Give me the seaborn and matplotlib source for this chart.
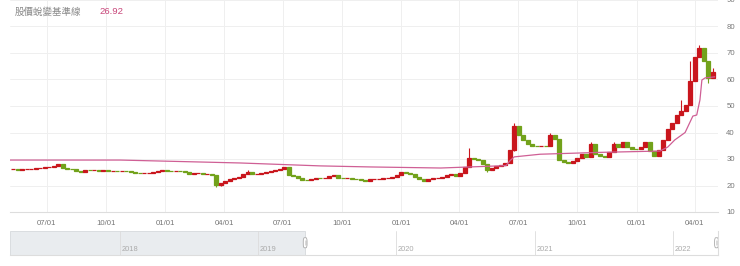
"""Stock price candles with baseline line and a date slider strip."""
import matplotlib
matplotlib.use("Agg")
import matplotlib.pyplot as plt
import matplotlib.dates as mdates
from matplotlib.patches import Rectangle, FancyBboxPatch
import pandas as pd
import seaborn as sns

TITLE = "股價蛻變基準線"
LAST_VALUE = "26.92"

# weekly closes, one per Friday starting 2019-05-10
WEEK_START = "2019-05-10"
closes = [
    26.2, 26.0, 26.1, 26.3, 26.4, 26.6, 26.7, 26.9, 27.0, 27.4,
    28.0, 26.6, 26.4, 26.1, 25.5, 25.2, 25.8, 25.7, 25.8, 25.6,
    25.7, 25.5, 25.5, 25.4, 25.5, 25.3, 25.0, 24.8, 24.7, 24.8,
    24.9, 25.0, 25.3, 25.8, 25.6, 25.5, 25.6, 25.4, 25.1, 24.4,
    24.6, 24.8, 24.5, 24.5, 23.8, 20.0, 21.0, 21.8, 22.4, 22.9,
    23.3, 24.2, 25.0, 24.3, 24.4, 24.6, 25.1, 25.4, 25.9, 26.3,
    26.9, 24.0, 23.6, 23.0, 22.2, 22.1, 22.3, 22.9, 22.7, 23.0,
    23.6, 23.8, 23.0, 22.7, 22.8, 22.6, 22.4, 22.1, 21.8, 22.4,
    22.5, 22.6, 22.8, 22.8, 23.3, 24.0, 25.0, 24.6, 24.2, 23.2,
    22.3, 21.8, 22.3, 22.9, 23.0, 23.3, 23.8, 24.3, 23.5, 24.8,
    27.0, 30.5, 30.0, 29.8, 28.0, 25.8, 26.6, 27.2, 27.7, 28.5,
    33.5, 42.5, 39.0, 37.2, 35.5, 35.0, 34.9, 35.0, 34.8, 39.2,
    37.5, 29.5, 28.7, 28.5, 29.2, 30.2, 31.8, 30.6, 35.5, 32.0,
    31.0, 30.8, 32.5, 35.5, 34.5, 36.5, 34.6, 33.8, 33.6, 34.5,
    36.5, 33.0, 31.2, 33.5, 37.0, 41.5, 43.5, 46.5, 48.0, 50.5,
    59.5, 68.5, 72.0, 67.0, 60.5, 62.8,
]
wick_highs = {
    "2020-05-08": 25.7, "2021-04-16": 34.0, "2021-06-25": 43.6,
    "2021-08-20": 40.0, "2021-10-22": 36.4, "2021-11-26": 36.4,
    "2022-03-11": 52.3, "2022-03-25": 67.0, "2022-04-08": 73.0,
    "2022-04-29": 64.5,
}
wick_lows = {
    "2020-03-20": 19.5, "2021-05-14": 25.0, "2021-06-25": 33.0,
    "2022-04-22": 58.5,
}

# baseline line
base_dates = [
    "2019-05-05", "2019-10-23", "2020-04-26", "2020-08-28", "2020-11-14",
    "2021-03-03", "2021-06-12", "2021-06-19", "2021-06-25", "2021-08-04",
    "2021-11-05", "2022-02-06", "2022-02-18", "2022-03-01", "2022-03-17",
    "2022-03-29", "2022-04-04", "2022-04-09", "2022-04-12", "2022-04-17",
    "2022-05-02",
]
base_values = [
    29.6, 29.6, 28.5, 27.4, 27.0, 26.6, 27.5, 29.5, 30.8, 31.8,
    32.5, 33.0, 34.5, 37.2, 40.0, 46.2, 46.6, 52.3, 59.8, 60.6,
    61.0,
]

tick_dates = [
    "2019-07-01", "2019-10-01", "2020-01-01", "2020-04-01", "2020-07-01",
    "2020-10-01", "2021-01-01", "2021-04-01", "2021-07-01", "2021-10-01",
    "2022-01-01", "2022-04-01",
]
tick_labels = ["07/01", "10/01", "01/01", "04/01", "07/01", "10/01",
               "01/01", "04/01", "07/01", "10/01", "01/01", "04/01"]
y_ticks = [10, 20, 30, 40, 50, 60, 70, 80, 90]

slider_years = ["2018", "2019", "2020", "2021", "2022"]

VIEW_START, VIEW_END = "2019-05-05", "2022-05-07"
SLIDER_START, SLIDER_END = "2017-03-16", "2022-04-30"

UP = "#c9161d"
DOWN = "#72a21b"
PINK = "#cf5f95"
TXT = "#777777"

sns.set_style("white")
plt.rcParams["font.family"] = ["Liberation Sans", "Noto Sans CJK TC", "DejaVu Sans"]

fig = plt.figure(figsize=(7.4, 2.66), dpi=100)
W, H = 740, 266
ax = fig.add_axes([10 / W, 1 - 212 / H, 708 / W, 212 / H])

df = pd.DataFrame({
    "date": pd.date_range(WEEK_START, periods=len(closes), freq="7D"),
    "close": closes,
})
df["open"] = df["close"].shift(1).fillna(26.1)
df["high"] = df[["open", "close"]].max(axis=1)
df["low"] = df[["open", "close"]].min(axis=1)
for d, v in wick_highs.items():
    df.loc[df["date"] == pd.Timestamp(d), "high"] = v
for d, v in wick_lows.items():
    df.loc[df["date"] == pd.Timestamp(d), "low"] = v
df["color"] = [UP if c >= o else DOWN for o, c in zip(df["open"], df["close"])]

x = mdates.date2num(df["date"])
ax.vlines(x, df["low"], df["high"], colors=df["color"], linewidth=0.8, zorder=3)
ax.bar(x, df["close"] - df["open"], bottom=df["open"], width=6.2,
       color=df["color"], edgecolor=df["color"], linewidth=0.9, zorder=4)

base = pd.DataFrame({"date": pd.to_datetime(base_dates), "value": base_values})
sns.lineplot(data=base, x="date", y="value", ax=ax, color=PINK, linewidth=0.9, zorder=5)

ax.set_xlim(pd.Timestamp(VIEW_START), pd.Timestamp(VIEW_END))
ax.set_ylim(10, 90)
ax.set_xticks(pd.to_datetime(tick_dates))
ax.set_xticklabels(tick_labels)
ax.set_yticks(y_ticks)
ax.yaxis.tick_right()
ax.tick_params(axis="both", length=0, labelsize=5.6, colors=TXT)
ax.tick_params(axis="x", pad=6)
ax.tick_params(axis="y", pad=6)
ax.grid(True, color="#efefef", linewidth=0.7)
ax.set_axisbelow(True)
for side in ["top", "left", "right"]:
    ax.spines[side].set_visible(False)
ax.spines["bottom"].set_color("#dddddd")
ax.spines["bottom"].set_linewidth(0.8)
ax.set_xlabel("")
ax.set_ylabel("")

fig.text(15 / W, 1 - 12 / H, TITLE, fontsize=6.8, color="#888888", va="center",
         family=["Noto Sans CJK TC", "DejaVu Sans"])
fig.text(99 / W, 1 - 12 / H, LAST_VALUE, fontsize=6.8, color="#c8467a", va="center")

# slider strip
sl = fig.add_axes([10 / W, 1 - 255 / H, 708 / W, 24 / H])
s0, s1 = pd.Timestamp(SLIDER_START), pd.Timestamp(SLIDER_END)
v0, v1 = mdates.date2num(pd.Timestamp(VIEW_START)), mdates.date2num(pd.Timestamp("2022-04-26"))
sl.set_xlim(s0, s1)
sl.set_ylim(0, 1)
sl.add_patch(Rectangle((mdates.date2num(s0), 0), v0 - mdates.date2num(s0), 1,
                       facecolor="#e9ecef", edgecolor="#d6d9dc", linewidth=0.6))
for yr in slider_years:
    xd = mdates.date2num(pd.Timestamp(f"{yr}-01-01"))
    sl.axvline(xd, color="#dcdcdc", linewidth=0.6)
    sl.text(xd + 4, 0.22, yr, fontsize=5.4, color="#aaaaaa", va="center", ha="left")
for hx in [v0, v1]:
    sl.add_patch(FancyBboxPatch((hx - 5, 0.3), 10, 0.42,
                                boxstyle="round,pad=0,rounding_size=3",
                                mutation_aspect=0.05,
                                facecolor="white", edgecolor="#aaaaaa", linewidth=0.6,
                                zorder=5))
    sl.vlines([hx - 1.5, hx + 1.5], 0.4, 0.62, color="#bbbbbb", linewidth=0.4, zorder=6)
sl.set_xticks([])
sl.set_yticks([])
for side in ["top", "left"]:
    sl.spines[side].set_visible(False)
sl.spines["bottom"].set_color("#dddddd")
sl.spines["right"].set_color("#dddddd")
sl.spines["bottom"].set_linewidth(0.8)
sl.spines["right"].set_linewidth(0.8)

fig.savefig("out.png", dpi=100)
